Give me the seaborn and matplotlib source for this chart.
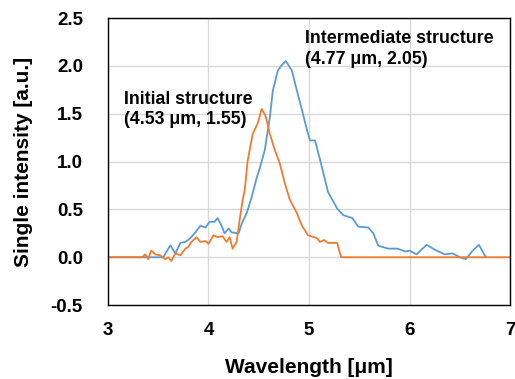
import numpy as np
import pandas as pd
import matplotlib
matplotlib.use("Agg")
import matplotlib.pyplot as plt
import seaborn as sns

# -----------------------------
# Data
# -----------------------------
wl_initial = [3.00, 3.34, 3.37, 3.40, 3.43, 3.47, 3.52, 3.57, 3.60, 3.63, 3.67, 3.72,
              3.77, 3.80, 3.83, 3.88, 3.92, 3.97, 4.00, 4.05, 4.09, 4.14, 4.18, 4.21,
              4.24, 4.28, 4.31, 4.34, 4.36, 4.39, 4.44, 4.49, 4.53, 4.57, 4.61, 4.66,
              4.71, 4.76, 4.81, 4.88, 4.93, 4.99, 5.08, 5.11, 5.15, 5.19, 5.28, 5.32, 7.00]
int_initial = [0.00, 0.00, 0.03, -0.02, 0.07, 0.03, 0.02, -0.02, 0.00, -0.04, 0.04, 0.02,
               0.09, 0.11, 0.16, 0.21, 0.16, 0.17, 0.14, 0.23, 0.21, 0.22, 0.16, 0.21,
               0.09, 0.16, 0.39, 0.60, 0.70, 1.01, 1.29, 1.40, 1.55, 1.47, 1.29, 1.12,
               0.98, 0.77, 0.60, 0.46, 0.33, 0.23, 0.20, 0.16, 0.18, 0.15, 0.15, 0.00, 0.00]

wl_inter = [3.00, 3.55, 3.62, 3.67, 3.72, 3.77, 3.82, 3.87, 3.92, 3.97, 4.01, 4.06,
            4.09, 4.13, 4.16, 4.20, 4.23, 4.30, 4.33, 4.38, 4.43, 4.48, 4.51, 4.56,
            4.61, 4.64, 4.69, 4.73, 4.77, 4.83, 4.88, 4.93, 4.98, 5.01, 5.06, 5.11,
            5.19, 5.28, 5.34, 5.43, 5.49, 5.59, 5.64, 5.69, 5.79, 5.88, 5.96, 6.00,
            6.07, 6.17, 6.25, 6.35, 6.43, 6.50, 6.56, 6.63, 6.69, 6.76]
int_inter = [0.00, 0.00, 0.125, 0.04, 0.15, 0.16, 0.20, 0.26, 0.33, 0.31, 0.37, 0.37,
             0.41, 0.33, 0.25, 0.30, 0.26, 0.25, 0.35, 0.46, 0.63, 0.83, 0.93, 1.12,
             1.46, 1.74, 1.95, 2.01, 2.05, 1.95, 1.74, 1.54, 1.33, 1.22, 1.22, 1.02,
             0.68, 0.51, 0.44, 0.41, 0.32, 0.31, 0.25, 0.12, 0.09, 0.09, 0.06, 0.07,
             0.03, 0.13, 0.08, 0.03, 0.04, 0.00, -0.02, 0.07, 0.13, 0.00]

x_ticks = [3, 4, 5, 6, 7]
y_ticks = [-0.5, 0.0, 0.5, 1.0, 1.5, 2.0, 2.5]

df_initial = pd.DataFrame({"Wavelength": wl_initial, "Intensity": int_initial})
df_inter = pd.DataFrame({"Wavelength": wl_inter, "Intensity": int_inter})

# -----------------------------
# Plot
# -----------------------------
sns.set_theme(style="whitegrid")
plt.rcParams["font.family"] = ["Liberation Sans", "DejaVu Sans"]
plt.rcParams["font.weight"] = "bold"
plt.rcParams["text.color"] = "black"
plt.rcParams["axes.labelcolor"] = "black"

fig = plt.figure(figsize=(5.15, 3.79), dpi=100)
ax = fig.add_axes([0.2097, 0.195, 0.7806, 0.7575])

sns.lineplot(data=df_inter, x="Wavelength", y="Intensity", ax=ax,
             color="#5B9BD5", linewidth=1.3, sort=False)
sns.lineplot(data=df_initial, x="Wavelength", y="Intensity", ax=ax,
             color="#ED7D31", linewidth=1.3, sort=False)

ax.set_xlim(3, 7)
ax.set_ylim(-0.5, 2.5)
ax.set_xticks(x_ticks)
ax.set_xticklabels([str(t) for t in x_ticks])
ax.set_yticks(y_ticks)
ax.set_yticklabels([f"{t:.1f}" for t in y_ticks])

ax.grid(True, color="#d9d9d9", linewidth=1.0)
for s in ax.spines.values():
    s.set_color("black")
    s.set_linewidth(1.0)

ax.tick_params(axis="y", length=0, pad=18, labelsize=13.5, colors="black")
ax.tick_params(axis="x", length=0, pad=12, labelsize=13.5, colors="black")
for lbl in ax.get_xticklabels() + ax.get_yticklabels():
    lbl.set_fontweight("bold")

ax.set_xlabel("Wavelength [μm]", fontsize=15, fontweight="bold", labelpad=14,
              color="black")
ax.set_ylabel("Single intensity [a.u.]", fontsize=15, fontweight="bold", labelpad=13,
              color="black")

ax.text(4.96, 2.37, "Intermediate structure\n(4.77 μm, 2.05)", fontsize=12.8,
        fontweight="bold", va="top", ha="left", linespacing=1.25, color="black")
ax.text(3.16, 1.74, "Initial structure\n(4.53 μm, 1.55)", fontsize=12.8,
        fontweight="bold", va="top", ha="left", linespacing=1.25, color="black")

plt.savefig("out.png", dpi=100)
plt.close()
